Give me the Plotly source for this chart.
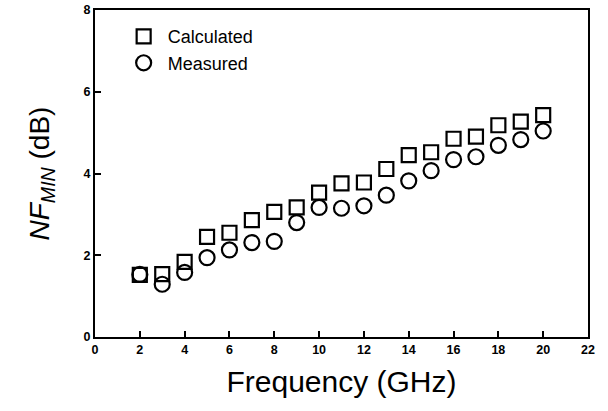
import plotly.graph_objects as go

freq = [2, 3, 4, 5, 6, 7, 8, 9, 10, 11, 12, 13, 14, 15, 16, 17, 18, 19, 20]
calculated = [1.52, 1.54, 1.84, 2.45, 2.55, 2.86, 3.06, 3.17, 3.53, 3.76, 3.78,
              4.11, 4.45, 4.52, 4.85, 4.90, 5.18, 5.27, 5.43]
measured = [1.53, 1.29, 1.58, 1.94, 2.13, 2.31, 2.34, 2.80, 3.17, 3.15, 3.21,
            3.47, 3.82, 4.07, 4.34, 4.41, 4.69, 4.83, 5.04]

fig = go.Figure()
fig.add_trace(go.Scatter(x=freq, y=calculated, mode="markers", name="Calculated",
                         marker=dict(symbol="square-open", size=14, color="black",
                                     line=dict(width=2.2, color="black"))))
fig.add_trace(go.Scatter(x=freq, y=measured, mode="markers", name="Measured",
                         marker=dict(symbol="circle-open", size=15, color="black",
                                     line=dict(width=2.2, color="black"))))

axis_common = dict(showline=True, linecolor="black", linewidth=2, mirror=True,
                   ticks="inside", ticklen=6, tickwidth=1.5, tickcolor="black",
                   showgrid=False, zeroline=False, automargin=False,
                   tickfont=dict(family="Liberation Sans, Arial", size=12.5, color="black", weight="bold"))

fig.update_layout(
    width=608, height=411,
    margin=dict(l=95, r=20, t=10, b=74, autoexpand=False),
    paper_bgcolor="white", plot_bgcolor="white",
    showlegend=True,
    legend=dict(x=0.05, y=0.975, xanchor="left", yanchor="top", itemwidth=38,
                font=dict(family="Liberation Sans, Arial", size=18, color="black"),
                bgcolor="rgba(0,0,0,0)", tracegroupgap=0),
    xaxis=dict(range=[0, 22], tick0=0, dtick=2,
               title=dict(text="Frequency (GHz)", standoff=15,
                          font=dict(family="Liberation Sans, Arial", size=30, color="black")),
               **axis_common),
    yaxis=dict(range=[0, 8], tick0=0, dtick=2,
               title=dict(text="<i>NF</i><sub><i>MIN</i></sub> (dB)", standoff=26,
                          font=dict(family="Liberation Sans, Arial", size=28, color="black")),
               **axis_common),
)

fig.write_html("out.html", config={"displayModeBar": False},
               post_script="document.body.style.margin='0';")
